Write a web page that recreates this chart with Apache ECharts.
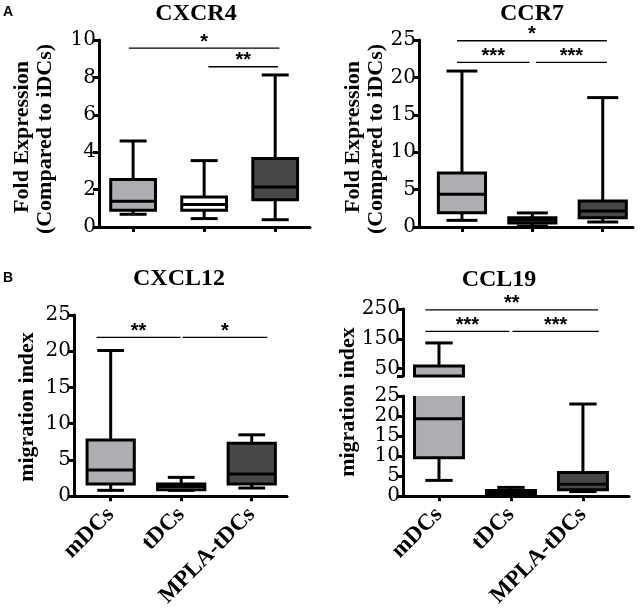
<!DOCTYPE html>
<html><head><meta charset="utf-8">
<script src="https://cdn.jsdelivr.net/npm/echarts@6/dist/echarts.min.js"></script>
<style>html,body{margin:0;padding:0;background:#fff}#c{width:641px;height:610px}</style>
</head><body><div id="c"></div>
<script>
// ---- data ----
const categories = ['mDCs', 'tDCs', 'MPLA-tDCs'];
const boxColors = ['#adadb2', '#ffffff', '#474747'];
// each row: [min, Q1, median, Q3, max]
const cxcr4 = [[0.68, 0.89, 1.38, 2.54, 4.6], [0.45, 0.89, 1.2, 1.6, 3.55], [0.39, 1.46, 2.14, 3.66, 8.13]];
const ccr7 = [[0.89, 1.92, 4.38, 7.23, 20.85], [0.13, 0.54, 0.89, 1.25, 1.88], [0.67, 1.25, 2.14, 3.48, 17.3]];
const cxcl12 = [[0.81, 1.67, 3.6, 7.75, 20.1], [0.81, 0.9, 1.35, 1.7, 2.6], [1.13, 1.67, 3.06, 7.3, 8.47]];
const ccl19 = [[3.95, 9.6, 19.3, 59, 136], [0.3, 0.6, 0.85, 1.4, 2.2], [1.15, 1.6, 3.0, 5.9, 23.0]];
// significance brackets: [x from, x to, y, label]
const sigCxcr4 = [[-0.06, 2.06, 9.57, '*'], [1.06, 2.04, 8.57, '**']];
const sigCcr7 = [[-0.07, 2.06, 24.9, '*'], [-0.07, 0.96, 22, '***'], [1.05, 2.06, 22, '***']];
const sigCxcl12 = [[-0.2, 0.99, 21.9, '**'], [1.02, 2.22, 21.9, '*']];
const sigCcl19 = [[-0.19, 2.21, 247, '**'], [-0.19, 0.98, 175, '***'], [1.02, 2.22, 175, '***']];
const ticksCxcr4 = [0, 2, 4, 6, 8, 10];
const ticksCcr7 = [0, 5, 10, 15, 20, 25];
const ticksCxcl12 = [0, 5, 10, 15, 20, 25];
const ticksCcl19Low = [0, 5, 10, 15, 20, 25];
const ticksCcl19High = [50, 150, 250];
const ticksCcl19HighMarks = [25, 50, 150, 250];

const SERIF = 'Liberation Serif';
const TICKFONT = 'DejaVu Serif';
const LW = 3;

function boxRender(closeClip, boxW, capW) {
  return function (params, api) {
    const cs = params.coordSys;
    const top = cs.y, bot = cs.y + cs.height;
    const x = api.value(0);
    const v = [1, 2, 3, 4, 5].map(i => api.value(i));
    const px = api.coord([x, 0])[0];
    const py = v.map(val => api.coord([x, val])[1]);
    const inR = y => y >= top - 0.5 && y <= bot + 0.5;
    const cl = y => Math.max(top, Math.min(bot, y));
    const hw = api.size([boxW, 0])[0] / 2;
    const hc = api.size([capW, 0])[0] / 2;
    const st = { stroke: '#000', lineWidth: LW, fill: null };
    const ch = [];
    const w = [[py[3], py[4]], [py[1], py[0]]];
    w.forEach(([a, b]) => {
      const y1 = cl(a), y2 = cl(b);
      if (Math.abs(y1 - y2) > 0.5) ch.push({ type: 'line', shape: { x1: px, y1: y1, x2: px, y2: y2 }, style: st });
    });
    [py[4], py[0]].forEach(y => {
      if (inR(y)) ch.push({ type: 'line', shape: { x1: px - hc, y1: y, x2: px + hc, y2: y }, style: st });
    });
    const yt = cl(py[3]), yb = cl(py[1]);
    if (yb - yt > 0.5) {
      const color = boxColors[params.dataIndex];
      ch.push({ type: 'rect', shape: { x: px - hw, y: yt, width: 2 * hw, height: yb - yt }, style: { fill: color, stroke: null } });
      const showTop = inR(py[3]) || closeClip, showBot = inR(py[1]) || closeClip;
      if (showTop && showBot) {
        ch.push({ type: 'rect', shape: { x: px - hw, y: yt, width: 2 * hw, height: yb - yt }, style: st });
      } else {
        const pts = [];
        if (showTop) pts.push([px - hw, yb], [px - hw, yt], [px + hw, yt], [px + hw, yb]);
        else pts.push([px - hw, yt], [px - hw, yb], [px + hw, yb], [px + hw, yt]);
        ch.push({ type: 'polyline', shape: { points: pts }, style: st });
      }
      if (inR(py[2])) ch.push({ type: 'line', shape: { x1: px - hw, y1: py[2], x2: px + hw, y2: py[2] }, style: st });
    }
    return { type: 'group', children: ch };
  };
}

function sigRender(list) {
  return function (params, api) {
    const p1 = api.coord([api.value(0), api.value(2)]);
    const p2 = api.coord([api.value(1), api.value(2)]);
    return {
      type: 'group', children: [
        { type: 'line', shape: { x1: p1[0], y1: p1[1], x2: p2[0], y2: p2[1] }, style: { stroke: '#000', lineWidth: 1.3 } },
        { type: 'text', x: (p1[0] + p2[0]) / 2, y: p1[1] - 6, style: { text: list[params.dataIndex][3], font: 'bold 20px "Liberation Sans", sans-serif', fill: '#000', align: 'center', verticalAlign: 'middle' } }
      ]
    };
  };
}

function boxData(rows) { return rows.map((r, i) => [i].concat(r)); }
function sigData(list) { return list.map(s => [s[0], s[1], s[2]]); }

const grids = [
  { left: 99, top: 40, width: 211, height: 187 },
  { left: 419, top: 40, width: 214, height: 187 },
  { left: 74, top: 315, width: 213, height: 185 },
  { left: 403, top: 309, width: 226, height: 67 },
  { left: 403, top: 396, width: 226, height: 101 }
];

function xAx(gi, min, max, labels) {
  return {
    type: 'value', gridIndex: gi, min: min, max: max,
    axisLine: { show: true, onZero: false, lineStyle: { color: '#000', width: LW } },
    axisTick: { show: true, length: 5, customValues: [0, 1, 2], lineStyle: { color: '#000', width: LW } },
    axisLabel: labels ? {
      show: true, customValues: [0, 1, 2], rotate: 45, margin: 15,
      formatter: v => categories[Math.round(v)],
      fontFamily: SERIF, fontWeight: 'bold', fontSize: 23, color: '#000'
    } : { show: false },
    splitLine: { show: false }
  };
}
function yAx(gi, ticks, marks) {
  return {
    type: 'value', gridIndex: gi, min: Math.min(...(marks || ticks)), max: Math.max(...ticks),
    axisLine: { show: true, onZero: false, lineStyle: { color: '#000', width: LW } },
    axisTick: { show: true, length: 6, customValues: marks || ticks, lineStyle: { color: '#000', width: LW } },
    axisLabel: { show: true, customValues: ticks, showMinLabel: true, showMaxLabel: true, hideOverlap: false, margin: 3, fontFamily: TICKFONT, fontSize: 20, color: '#000' },
    splitLine: { show: false }
  };
}

const chart = echarts.init(document.getElementById('c'), null, { renderer: 'canvas' });
const capW = 0.38;
const upperX = xAx(3, -0.5, 2.64, false);
upperX.show = false;
chart.setOption({
  animation: false,
  backgroundColor: '#fff',
  grid: grids,
  xAxis: [
    xAx(0, -0.48, 2.49, false),
    xAx(1, -0.61, 2.43, false),
    xAx(2, -0.52, 2.5, true),
    upperX,
    xAx(4, -0.5, 2.64, true)
  ],
  yAxis: [
    yAx(0, ticksCxcr4),
    yAx(1, ticksCcr7),
    yAx(2, ticksCxcl12),
    yAx(3, ticksCcl19High, ticksCcl19HighMarks),
    yAx(4, ticksCcl19Low)
  ],
  series: [
    { type: 'custom', xAxisIndex: 0, yAxisIndex: 0, renderItem: boxRender(true, 0.63, capW), data: boxData(cxcr4), clip: false },
    { type: 'custom', xAxisIndex: 1, yAxisIndex: 1, renderItem: boxRender(true, 0.67, 0.44), data: boxData(ccr7), clip: false },
    { type: 'custom', xAxisIndex: 2, yAxisIndex: 2, renderItem: boxRender(true, 0.67, capW), data: boxData(cxcl12), clip: false },
    { type: 'custom', xAxisIndex: 3, yAxisIndex: 3, renderItem: boxRender(true, 0.68, capW), data: boxData(ccl19), clip: false },
    { type: 'custom', xAxisIndex: 4, yAxisIndex: 4, renderItem: boxRender(false, 0.68, capW), data: boxData(ccl19), clip: false },
    { type: 'custom', xAxisIndex: 0, yAxisIndex: 0, renderItem: sigRender(sigCxcr4), data: sigData(sigCxcr4), clip: false },
    { type: 'custom', xAxisIndex: 1, yAxisIndex: 1, renderItem: sigRender(sigCcr7), data: sigData(sigCcr7), clip: false },
    { type: 'custom', xAxisIndex: 2, yAxisIndex: 2, renderItem: sigRender(sigCxcl12), data: sigData(sigCxcl12), clip: false },
    { type: 'custom', xAxisIndex: 3, yAxisIndex: 3, renderItem: sigRender(sigCcl19), data: sigData(sigCcl19), clip: false }
  ],
  graphic: [
    { type: 'text', x: 8, y: 12, style: { text: 'A', font: 'bold 14px "Liberation Sans", sans-serif', fill: '#000', align: 'center', verticalAlign: 'middle' } },
    { type: 'text', x: 8, y: 278, style: { text: 'B', font: 'bold 14px "Liberation Sans", sans-serif', fill: '#000', align: 'center', verticalAlign: 'middle' } },
    { type: 'text', x: 196, y: 14, style: { text: 'CXCR4', font: 'bold 24px "Liberation Serif"', fill: '#000', align: 'center', verticalAlign: 'middle' } },
    { type: 'text', x: 532, y: 14, style: { text: 'CCR7', font: 'bold 24px "Liberation Serif"', fill: '#000', align: 'center', verticalAlign: 'middle' } },
    { type: 'text', x: 179, y: 279, style: { text: 'CXCL12', font: 'bold 24px "Liberation Serif"', fill: '#000', align: 'center', verticalAlign: 'middle' } },
    { type: 'text', x: 499, y: 280, style: { text: 'CCL19', font: 'bold 24px "Liberation Serif"', fill: '#000', align: 'center', verticalAlign: 'middle' } },
    { type: 'text', x: 22, y: 137, rotation: Math.PI / 2, style: { text: 'Fold Expression', font: 'bold 22px "Liberation Serif"', fill: '#000', align: 'center', verticalAlign: 'middle' } },
    { type: 'text', x: 45, y: 139, rotation: Math.PI / 2, style: { text: '(Compared to iDCs)', font: 'bold 22px "Liberation Serif"', fill: '#000', align: 'center', verticalAlign: 'middle' } },
    { type: 'text', x: 353, y: 137, rotation: Math.PI / 2, style: { text: 'Fold Expression', font: 'bold 22px "Liberation Serif"', fill: '#000', align: 'center', verticalAlign: 'middle' } },
    { type: 'text', x: 376, y: 139, rotation: Math.PI / 2, style: { text: '(Compared to iDCs)', font: 'bold 22px "Liberation Serif"', fill: '#000', align: 'center', verticalAlign: 'middle' } },
    { type: 'text', x: 27, y: 407, rotation: Math.PI / 2, style: { text: 'migration index', font: 'bold 22px "Liberation Serif"', fill: '#000', align: 'center', verticalAlign: 'middle' } },
    { type: 'text', x: 348, y: 402, rotation: Math.PI / 2, style: { text: 'migration index', font: 'bold 22px "Liberation Serif"', fill: '#000', align: 'center', verticalAlign: 'middle' } }
  ]
});
</script></body></html>
